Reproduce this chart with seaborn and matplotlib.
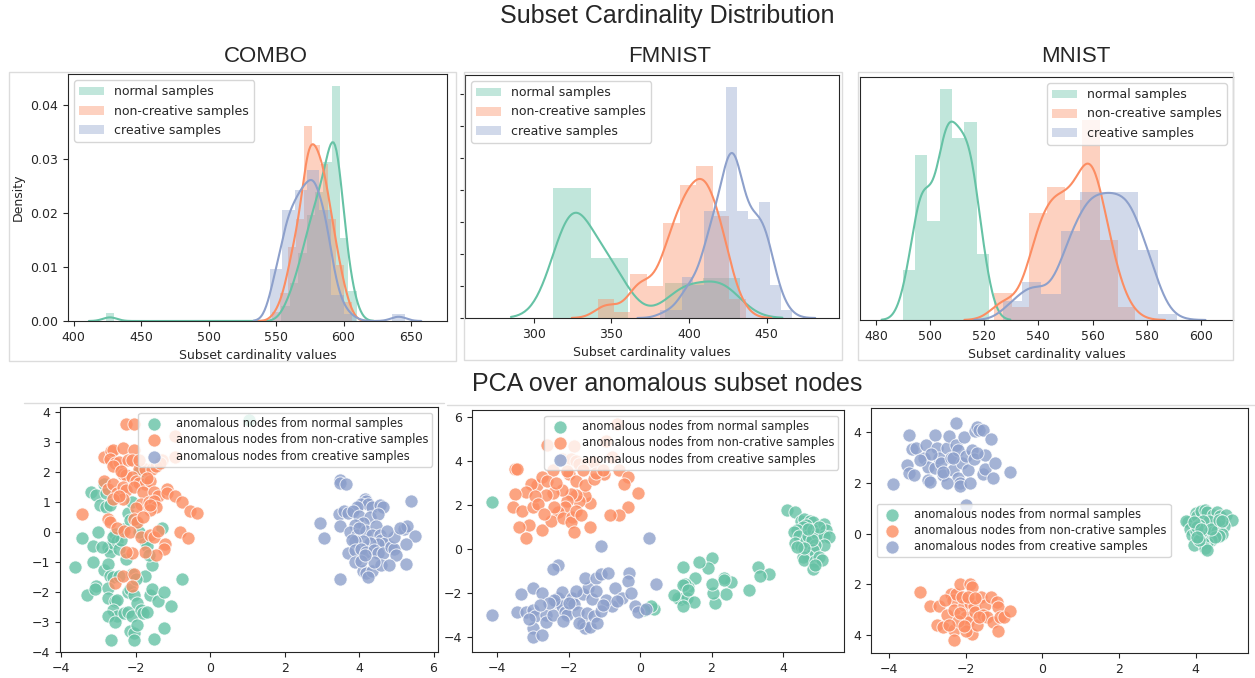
"""
Subset cardinality distribution + PCA over anomalous subset nodes
- 윗줄: 세 데이터셋(COMBO / FMNIST / MNIST)의 카디널리티 분포 (hist + kde)
- 아랫줄: 이상 노드의 PCA 산점도
"""

import numpy as np
import matplotlib
matplotlib.use('Agg')
import matplotlib.pyplot as plt
import seaborn as sns
from matplotlib.patches import Rectangle
from matplotlib.lines import Line2D

sns.set_style('ticks')
plt.rcParams['font.family'] = ['DejaVu Sans']

W, H = 1255, 678
PALETTE = sns.color_palette('Set2', 3)
HIST_LABELS = ['normal samples', 'non-creative samples', 'creative samples']
PCA_LABELS = ['anomalous nodes from normal samples',
              'anomalous nodes from non-crative samples',
              'anomalous nodes from creative samples']
DATASETS = ['COMBO', 'FMNIST', 'MNIST']

# ---- 히스토그램 값 (bin 시작, bin 폭, bin 별 개수) ----
COMBO_NORMAL = (423.8, 6.2, [1, 0, 0, 0, 0, 0, 0, 0, 0, 0, 0, 0, 0, 0, 0, 0, 0, 0, 0, 0, 0,
                             2, 5, 9, 14, 17, 21, 31, 11, 4])
COMBO_NONCREATIVE = (547.2, 5.9, [1, 3, 8, 11, 21, 19, 17, 11, 6, 2])
COMBO_CREATIVE = (545.6, 9.07, [8, 17, 20, 23, 17, 4, 1, 0, 0, 0, 1])

FMNIST_NORMAL = (312.4, 24.1, [26, 12, 0, 7, 8])
FMNIST_NONCREATIVE = (341.0, 10.6, [3, 1, 7, 5, 15, 21, 24, 16, 3])
FMNIST_CREATIVE = (381.4, 7.1, [1, 1, 5, 4, 13, 13, 28, 13, 12, 14, 4, 1])

MNIST_NORMAL = (489.9, 4.56, [3, 10, 6, 14, 11, 12, 4])
MNIST_NONCREATIVE = (523.6, 6.53, [2, 1, 8, 10, 9, 15, 6, 1])
MNIST_CREATIVE = (526.8, 7.16, [3, 6, 4, 14, 20, 20, 20, 11, 1])

# kde 대역폭 보정 (원본 곡선 모양 맞춤용)
COMBO_BW = [0.72, 1.0, 0.95]
FMNIST_BW = [0.78, 0.95, 1.0]
MNIST_BW = [1.0, 1.0, 0.9]

# x 눈금
COMBO_XTICKS = [400, 450, 500, 550, 600, 650]
FMNIST_XTICKS = [300, 350, 400, 450]
MNIST_XTICKS = [480, 500, 520, 540, 560, 580, 600]

# ---- PCA 좌표 ----
COMBO_NORMAL_PTS = [
    (1.05, 3.75), (-3.63, -1.15), (-3.45, -0.2), (-3.15, -0.45), (-3.15, -1.0), (-3.2, 1.35),
    (-3.05, 1.25), (-3.0, 0.0), (-2.95, 0.9), (-2.85, 1.6), (-2.8, 0.85), (-2.75, -0.5),
    (-2.7, -0.65), (-2.6, -0.35), (-2.55, -0.05), (-2.5, -0.3), (-2.45, -0.55), (-2.85, -1.25),
    (-2.75, -1.05), (-2.7, -1.45), (-2.6, -1.5), (-2.45, -1.45), (-3.3, -2.1), (-3.05, -1.8),
    (-3.1, -1.9), (-2.75, -1.85), (-2.75, -2.2), (-2.55, -2.3), (-2.5, -2.25), (-2.6, -2.6),
    (-2.5, -2.8), (-2.75, -2.8), (-2.55, -3.0), (-2.65, -3.6), (-2.3, -2.7), (-2.2, -2.65),
    (-2.1, -2.8), (-2.15, -3.3), (-2.05, -3.35), (-1.95, -3.1), (-2.05, -3.6), (-1.5, -3.55),
    (-1.25, -3.2), (-2.2, -2.0), (-2.15, -1.9), (-2.05, -2.1), (-1.95, -2.35), (-1.85, -2.6),
    (-1.8, -2.7), (-1.7, -2.65), (-1.6, -2.1), (-1.55, -1.9), (-1.4, -2.3), (-1.25, -2.0),
    (-1.05, -2.45), (-0.75, -1.55), (-1.75, -1.45), (-1.55, -1.1), (-2.1, -1.4), (-2.0, -1.55),
    (-2.25, -0.9), (-2.4, -0.25), (-2.3, 0.1), (-2.2, 0.65), (-2.15, 0.4), (-2.0, 0.35),
    (-1.75, -0.3), (-1.7, -0.45), (-1.65, -0.75), (-1.3, 0.15), (-1.9, 0.0), (-2.1, 1.0),
    (-1.85, 1.8), (-1.9, 2.0), (-2.8, 1.3), (-2.7, 0.9), (-2.9, -0.5), (-2.6, -0.15),
]
COMBO_NONCREATIVE_PTS = [
    (-2.25, 3.6), (-2.05, 3.6), (-0.95, 3.2), (-0.95, 2.5), (-1.3, 2.4), (-2.85, 2.5),
    (-2.65, 2.7), (-2.6, 2.75), (-2.35, 2.8), (-2.05, 2.75), (-2.7, 2.45), (-2.55, 2.3),
    (-2.45, 2.35), (-2.6, 2.2), (-2.2, 2.4), (-2.1, 2.4), (-1.9, 2.1), (-1.75, 2.1),
    (-1.55, 2.1), (-1.45, 2.2), (-1.35, 2.3), (-2.35, 1.95), (-2.25, 1.9), (-2.1, 1.85),
    (-2.0, 1.7), (-1.9, 1.65), (-1.75, 1.6), (-1.6, 1.7), (-2.85, 1.7), (-2.75, 1.45),
    (-2.6, 1.6), (-2.5, 1.3), (-2.35, 1.5), (-2.25, 1.4), (-2.05, 1.5), (-2.35, 1.1),
    (-2.6, 1.1), (-2.45, 1.2), (-1.8, 1.35), (-1.5, 1.35), (-1.4, 1.2), (-1.15, 1.45),
    (-1.15, 1.3), (-0.95, 1.2), (-0.75, 1.0), (-0.55, 0.7), (-0.35, 0.65), (-1.85, 0.95),
    (-1.65, 1.0), (-1.5, 1.05), (-1.45, 0.85), (-1.6, 0.75), (-2.0, 0.8), (-2.05, 0.45),
    (-1.95, 0.35), (-1.8, 0.5), (-2.75, 0.45), (-2.7, 0.35), (-2.5, 0.15), (-2.3, 0.05),
    (-2.15, 0.0), (-1.85, -0.15), (-1.6, -0.1), (-1.5, -0.15), (-1.2, -0.4), (-1.25, -0.55),
    (-1.45, -0.75), (-1.75, -0.65), (-2.1, -0.7), (-2.25, -0.65), (-3.45, 0.6), (-0.8, 0.0),
    (-0.6, -0.2), (-2.55, -1.7), (-2.35, -1.45), (-2.05, -1.4), (-2.1, -1.8), (-1.6, 0.9),
    (-1.4, 0.05), (-1.7, 1.8), (-1.9, 2.4), (-2.4, 2.05),
]
COMBO_CREATIVE_PTS = [
    (3.5, 1.75), (3.5, 1.65), (3.65, 1.6), (5.4, 1.05), (4.15, 1.1), (4.2, 1.05), (4.05, 0.95),
    (4.25, 0.95), (3.95, 0.85), (4.35, 0.85), (4.55, 0.9), (4.65, 0.85), (3.45, 0.6), (3.6, 0.7),
    (3.7, 0.65), (3.85, 0.7), (4.0, 0.55), (4.3, 0.5), (4.5, 0.6), (4.1, 0.3), (3.9, 0.25),
    (3.5, 0.2), (2.95, 0.3), (3.05, -0.2), (3.75, 0.0), (3.95, -0.1), (4.2, 0.05), (4.45, 0.2),
    (4.35, -0.1), (4.55, -0.1), (4.6, -0.25), (4.7, -0.35), (4.5, -0.4), (4.3, -0.35),
    (4.1, -0.3), (3.9, -0.3), (3.8, -0.25), (3.7, -0.7), (3.9, -0.6), (4.05, -0.55),
    (4.2, -0.65), (4.4, -0.6), (4.5, -0.7), (4.65, -0.7), (4.85, -0.5), (4.95, -0.55),
    (4.95, -0.15), (5.2, 0.1), (5.3, 0.2), (5.5, -0.12), (5.25, -0.4), (5.0, -0.75),
    (5.25, -1.05), (3.9, -1.0), (4.1, -1.3), (4.2, -1.35), (4.35, -1.3), (4.25, -1.5),
    (4.6, -1.1), (4.8, -1.1), (4.4, -1.0), (4.05, -0.95), (3.5, -1.55), (4.15, -0.75),
    (4.75, 0.05), (5.1, 0.15), (4.0, 0.15),
]

FMNIST_NORMAL_PTS = [
    (-4.15, 2.15), (4.1, 1.8), (4.35, 1.7), (4.5, 1.3), (4.6, 1.35), (4.75, 1.3), (4.85, 1.25),
    (4.65, 1.1), (4.55, 1.0), (4.4, 0.85), (4.3, 0.8), (4.45, 0.6), (4.35, 0.3), (4.5, 0.15),
    (4.65, 0.35), (4.7, 0.6), (4.85, 0.85), (4.95, 0.7), (5.15, 1.15), (5.2, 0.85), (5.15, 0.6),
    (5.3, 0.55), (5.15, 0.2), (4.9, 0.2), (4.85, -0.05), (4.7, -0.3), (4.55, -0.35), (4.6, -0.5),
    (4.9, -0.55), (5.0, -0.35), (5.1, -0.5), (4.85, -0.9), (4.9, -0.7), (4.8, 0.4), (4.6, 0.05),
    (4.4, 0.1), (5.0, 1.0), (4.7, 0.9), (3.3, -0.8), (3.6, -1.15), (3.35, -1.2), (3.05, -1.85),
    (2.55, -1.5), (2.35, -1.3), (2.35, -1.4), (2.4, -2.05), (2.1, -2.45), (2.05, -2.0),
    (2.0, -1.6), (2.0, -0.4), (1.9, -0.85), (1.65, -0.6), (1.55, -1.3), (1.35, -1.7),
    (1.25, -1.6), (1.2, -0.8), (1.2, -1.65), (1.15, -2.25), (1.05, -2.2), (0.95, -2.1),
    (1.3, -2.2), (1.5, -2.4), (1.2, -2.6), (0.4, -2.7), (0.3, -2.6), (0.1, -2.75), (1.35, -1.85),
]
FMNIST_NONCREATIVE_PTS = [
    (-0.65, 5.7), (-0.95, 4.9), (-2.6, 4.75), (-1.85, 4.7), (-0.8, 4.2), (-3.5, 3.65),
    (-3.45, 3.65), (-2.45, 3.6), (-2.2, 4.1), (-1.95, 4.1), (-1.8, 4.0), (-1.7, 3.85),
    (-1.5, 3.9), (-1.3, 3.95), (-1.0, 3.4), (-0.6, 3.6), (-0.35, 3.3), (-0.45, 2.95),
    (-0.05, 2.55), (-0.35, 1.9), (-0.6, 1.55), (-0.85, 1.55), (-1.4, 2.1), (-1.55, 2.4),
    (-1.7, 2.2), (-1.8, 2.45), (-1.95, 2.5), (-2.05, 2.2), (-2.1, 1.9), (-2.3, 1.7),
    (-2.2, 2.7), (-2.45, 2.55), (-2.65, 2.45), (-2.9, 2.9), (-3.05, 2.95), (-3.2, 2.6),
    (-3.5, 2.5), (-3.55, 1.9), (-3.3, 1.75), (-3.0, 1.9), (-2.95, 2.4), (-2.75, 3.3),
    (-2.6, 3.1), (-2.35, 3.0), (-2.0, 3.4), (-1.8, 3.1), (-1.55, 2.9), (-1.3, 3.2),
    (-1.25, 3.45), (-1.05, 3.6), (-3.1, 1.1), (-3.4, 1.0), (-3.2, 0.5), (-2.75, 0.85),
    (-2.5, 1.3), (-2.15, 1.4), (-1.9, 1.45), (-1.95, 1.25), (-1.8, 1.75), (-1.4, 1.0),
    (-1.85, 0.8), (-2.05, 3.55), (-1.6, 3.6), (-2.4, 1.9), (-2.85, 2.05), (-2.7, 1.6),
    (-1.65, 1.55),
]
FMNIST_CREATIVE_PTS = [
    (0.25, 0.5), (-1.1, 0.15), (-2.3, -0.7), (-2.45, -0.9), (-4.15, -3.0), (-3.45, -2.85),
    (-3.35, -2.05), (-3.0, -1.75), (-2.75, -2.0), (-3.2, -2.85), (-3.0, -2.75), (-2.95, -3.05),
    (-3.0, -3.6), (-3.0, -4.0), (-2.75, -3.9), (-2.65, -3.0), (-2.65, -3.3), (-2.45, -3.0),
    (-2.35, -2.4), (-2.3, -2.2), (-2.2, -1.95), (-2.2, -2.6), (-2.1, -2.85), (-2.05, -3.0),
    (-1.95, -2.3), (-1.9, -2.2), (-1.85, -2.5), (-1.75, -2.85), (-1.6, -3.4), (-1.55, -3.6),
    (-1.4, -3.55), (-1.7, -3.35), (-1.5, -2.9), (-1.3, -3.05), (-1.2, -3.35), (-1.6, -2.05),
    (-1.45, -1.75), (-1.55, -1.3), (-1.25, -1.3), (-1.1, -1.15), (-0.9, -1.1), (-0.7, -1.75),
    (-0.3, -1.1), (-0.35, -1.45), (-0.5, -2.2), (-0.25, -2.0), (-0.15, -2.6), (-0.05, -2.85),
    (0.15, -2.7), (0.45, -1.6), (-0.8, -2.6), (-0.95, -2.3), (-1.1, -2.8), (-1.35, -2.25),
    (-1.25, -1.9), (-2.0, -2.45), (-2.4, -2.3), (-2.55, -2.45), (-2.15, -3.25), (-1.8, -1.9),
    (-1.05, -2.55), (-0.65, -2.35), (-2.8, -2.55), (-3.1, -3.15),
]

MNIST_NORMAL_PTS = [
    (3.8, 0.45), (3.75, 0.5), (3.85, 0.2), (3.9, -0.05), (3.95, -0.45), (4.0, 0.8), (4.05, 0.7),
    (4.15, 0.9), (4.25, 0.95), (4.3, 0.85), (4.45, 0.75), (4.55, 0.85), (4.65, 0.7), (4.8, 0.75),
    (4.95, 0.55), (4.75, 0.3), (4.6, 0.3), (4.5, 0.4), (4.35, 0.5), (4.2, 0.5), (4.1, 0.35),
    (4.0, 0.1), (4.15, 0.0), (4.25, 0.0), (4.35, -0.05), (4.45, 0.05), (4.55, 0.1), (4.7, 0.0),
    (4.6, -0.1), (4.4, -0.25), (4.3, -0.35), (4.2, -0.35), (4.25, -0.55), (4.3, -0.65),
    (4.1, -0.25), (4.5, -0.15), (4.05, 0.25), (4.4, 0.2), (3.95, 0.45), (4.15, 0.2),
    (4.6, 0.55), (4.7, 0.5), (4.05, -0.15),
]
MNIST_NONCREATIVE_PTS = [
    (-3.2, -2.3), (-2.95, -2.85), (-2.7, -2.85), (-2.75, -3.6), (-2.6, -3.7), (-2.5, -3.2),
    (-2.4, -2.4), (-2.35, -2.6), (-2.3, -3.0), (-2.3, -3.8), (-2.3, -4.2), (-2.25, -2.4),
    (-2.15, -2.0), (-2.05, -2.8), (-2.0, -3.3), (-1.95, -3.5), (-1.9, -2.0), (-1.85, -2.1),
    (-1.9, -2.75), (-1.8, -2.85), (-1.75, -3.1), (-1.85, -3.95), (-2.0, -3.85), (-1.7, -3.6),
    (-1.6, -2.5), (-1.5, -2.8), (-1.55, -3.2), (-1.45, -3.3), (-1.35, -2.5), (-1.3, -3.5),
    (-1.2, -2.7), (-1.15, -2.9), (-1.1, -3.3), (-1.0, -3.3), (-0.85, -3.05), (-1.15, -3.85),
    (-2.1, -2.5), (-2.2, -3.45), (-2.45, -3.6), (-1.65, -3.3), (-2.55, -2.6), (-1.95, -2.5),
    (-2.15, -3.15), (-1.75, -2.55), (-2.05, -3.65),
]
MNIST_CREATIVE_PTS = [
    (-3.9, 1.95), (-3.5, 3.9), (-3.4, 3.35), (-3.3, 3.4), (-3.55, 2.7), (-3.5, 2.4),
    (-3.35, 2.3), (-3.1, 3.0), (-3.05, 3.5), (-3.0, 2.65), (-3.0, 2.1), (-2.95, 2.05),
    (-2.8, 3.9), (-2.75, 3.4), (-2.8, 2.6), (-2.7, 3.0), (-2.65, 2.8), (-2.6, 2.3),
    (-2.5, 3.4), (-2.45, 3.85), (-2.4, 3.0), (-2.35, 2.5), (-2.25, 4.35), (-2.25, 3.5),
    (-2.2, 3.3), (-2.2, 2.2), (-2.15, 2.0), (-2.15, 1.9), (-2.1, 2.8), (-2.05, 3.8),
    (-2.0, 3.05), (-1.95, 2.5), (-1.85, 3.3), (-1.8, 2.95), (-1.75, 4.05), (-1.7, 4.2),
    (-1.65, 4.1), (-1.55, 4.1), (-1.55, 2.35), (-1.5, 2.55), (-1.35, 3.75), (-1.5, 3.1),
    (-1.25, 2.8), (-1.3, 2.2), (-0.85, 2.45), (-2.0, 1.15), (-2.5, 2.0), (-2.9, 3.15),
    (-2.35, 3.0), (-1.9, 2.0), (-2.6, 2.45), (-3.2, 2.9), (-1.7, 3.2),
]


def px_box(left, top, right, bottom):
    """픽셀 좌표 -> figure 비율 [l, b, w, h]"""
    return [left / W, 1 - bottom / H, (right - left) / W, (bottom - top) / H]


def to_samples(start, width, counts):
    """bin 개수로부터 표본(bin 중앙값 반복)과 bin 경계 생성"""
    counts = np.asarray(counts)
    edges = start + width * np.arange(len(counts) + 1)
    centers = edges[:-1] + width / 2
    return np.repeat(centers, counts), edges


def plot_distribution(ax, series, bws, legend_loc):
    for (start, width, counts), bw, color, label in zip(series, bws, PALETTE, HIST_LABELS):
        samples, edges = to_samples(start, width, counts)
        sns.histplot(x=samples, bins=edges, stat='density', color=color, alpha=0.4,
                     linewidth=0, ax=ax, label=label)
        sns.kdeplot(x=samples, color=color, linewidth=1.5, bw_adjust=bw, ax=ax)
    ax.set_xlabel('Subset cardinality values', fontsize=9)
    ax.tick_params(labelsize=9)
    ax.legend(loc=legend_loc, fontsize=9)


def plot_pca(ax, groups, legend_loc):
    for pts, color, label in zip(groups, PALETTE, PCA_LABELS):
        arr = np.array(pts)
        sns.scatterplot(x=arr[:, 0], y=arr[:, 1], color=color, s=90, alpha=0.8,
                        edgecolor='white', linewidth=0.7, label=label, ax=ax)
    ax.tick_params(labelsize=9)
    ax.legend(loc=legend_loc, fontsize=8.3, handletextpad=0.9, borderpad=0.35,
              labelspacing=0.3)


fig = plt.figure(figsize=(W / 100, H / 100), dpi=100)

# 스크린샷 패널 테두리
for l, t, r, b in [(9, 72, 456, 361), (464, 72, 842, 360), (858, 72, 1233, 360)]:
    fig.add_artist(Rectangle((l / W, 1 - b / H), (r - l) / W, (b - t) / H,
                             transform=fig.transFigure, fill=False, ec='#dcdcdc', lw=1))
fig.add_artist(Line2D([24 / W, 444 / W], [1 - 403 / H] * 2, transform=fig.transFigure,
                      color='#dcdcdc', lw=1))
fig.add_artist(Line2D([447 / W, 1], [1 - 405 / H] * 2, transform=fig.transFigure,
                      color='#dcdcdc', lw=1))

# 윗줄: 분포
ax1 = fig.add_axes(px_box(68, 74, 447, 321))
plot_distribution(ax1, [COMBO_NORMAL, COMBO_NONCREATIVE, COMBO_CREATIVE], COMBO_BW, 'upper left')
ax1.set_xlim(395.8, 676.7)
ax1.set_xticks(COMBO_XTICKS)
ax1.set_ylabel('Density', fontsize=9)

ax2 = fig.add_axes(px_box(465, 75, 839, 318))
plot_distribution(ax2, [FMNIST_NORMAL, FMNIST_NONCREATIVE, FMNIST_CREATIVE], FMNIST_BW,
                  'upper left')
ax2.set_xlim(255.6, 496.6)
ax2.set_xticks(FMNIST_XTICKS)
ax2.set_ylabel('')
ax2.set_yticklabels([])

ax3 = fig.add_axes(px_box(860, 77, 1233, 320))
plot_distribution(ax3, [MNIST_NORMAL, MNIST_NONCREATIVE, MNIST_CREATIVE], MNIST_BW, 'upper right')
ax3.set_xlim(474.1, 611.9)
ax3.set_xticks(MNIST_XTICKS)
ax3.set_ylabel('')
ax3.tick_params(axis='y', left=False, labelleft=False)

# 아랫줄: PCA
ax4 = fig.add_axes(px_box(60, 407, 438, 652))
plot_pca(ax4, [COMBO_NORMAL_PTS, COMBO_NONCREATIVE_PTS, COMBO_CREATIVE_PTS], 'upper right')
ax4.set_xlim(-4.03, 6.12)
ax4.set_ylim(-4.0, 4.17)
ax4.set_xticks([-4, -2, 0, 2, 4, 6])
ax4.set_yticks([-4, -3, -2, -1, 0, 1, 2, 3, 4])

ax5 = fig.add_axes(px_box(472, 410, 844, 652))
plot_pca(ax5, [FMNIST_NORMAL_PTS, FMNIST_NONCREATIVE_PTS, FMNIST_CREATIVE_PTS], 'upper right')
ax5.set_xlim(-4.71, 5.71)
ax5.set_ylim(-4.67, 6.32)
ax5.set_xticks([-4, -2, 0, 2, 4])
ax5.set_yticks([-4, -2, 0, 2, 4, 6])

ax6 = fig.add_axes(px_box(871, 408, 1248, 653))
plot_pca(ax6, [MNIST_NORMAL_PTS, MNIST_NONCREATIVE_PTS, MNIST_CREATIVE_PTS], 'center left')
ax6.set_xlim(-4.48, 5.37)
ax6.set_ylim(-4.71, 4.96)
ax6.set_xticks([-4, -2, 0, 2, 4])
ax6.set_yticks([-4, -2, 0, 2, 4])
# 원본 이미지에서 음수 부호가 잘려 보임
ax6.set_yticklabels(['4', '2', '0', '2', '4'])

# 제목
title_font = ['Liberation Sans', 'DejaVu Sans']
fig.text(667 / W, 1 - 16 / H, 'Subset Cardinality Distribution', ha='center', va='center',
         fontsize=18, family=title_font)
for name, cx in zip(DATASETS, [266, 670, 1076]):
    fig.text(cx / W, 1 - 57 / H, name, ha='center', va='center', fontsize=16, family=title_font)
fig.text(667 / W, 1 - 384 / H, 'PCA over anomalous subset nodes', ha='center', va='center',
         fontsize=18, family=title_font)

fig.savefig('out.png', dpi=100)
